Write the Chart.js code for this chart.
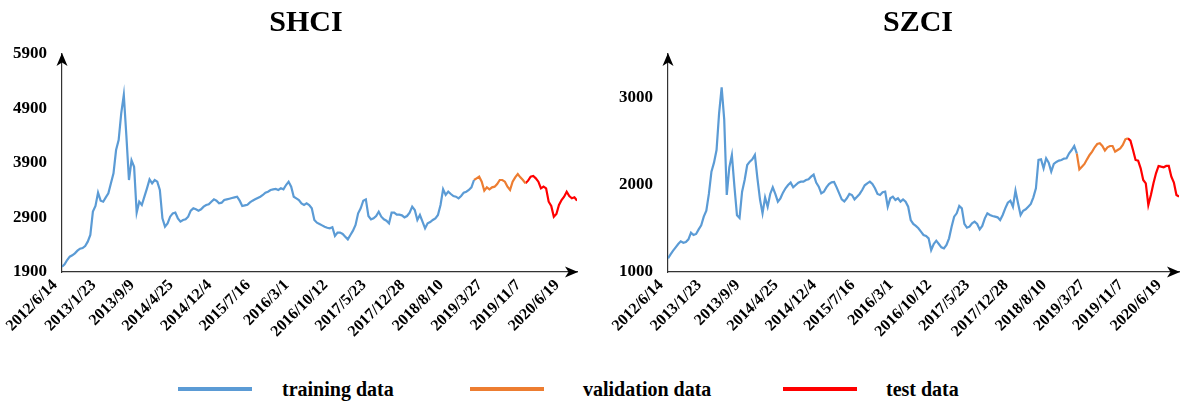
<!DOCTYPE html>
<html>
<head>
<meta charset="utf-8">
<title>SHCI / SZCI</title>
<script src="https://cdn.jsdelivr.net/npm/chart.js@4.4.1/dist/chart.umd.min.js"></script>
<style>
  html, body { margin: 0; padding: 0; background: #fff; width: 1180px; height: 401px; overflow: hidden; }
  #wrap { position: relative; width: 1180px; height: 401px; font-family: "Liberation Serif", "Times New Roman", serif; }
  canvas { position: absolute; top: 0; }
  #shci { left: 0; }
  #szci { left: 600px; }
  .swatch { position: absolute; top: 387px; width: 74px; height: 4px; }
  .ltext { position: absolute; top: 379px; font-size: 20px; line-height: 20px; font-weight: bold; color: #000; white-space: nowrap; }
</style>
</head>
<body>
<div id="wrap">
  <canvas id="shci" width="590" height="365"></canvas>
  <canvas id="szci" width="580" height="365"></canvas>

  <div class="swatch" style="left:178px;background:#5B9BD5"></div>
  <div class="ltext" style="left:282px">training data</div>
  <div class="swatch" style="left:470px;background:#ED7D31"></div>
  <div class="ltext" style="left:583px">validation data</div>
  <div class="swatch" style="left:783px;background:#FF0000"></div>
  <div class="ltext" style="left:886px">test data</div>
</div>

<script>
// Trading-day step between stored closing values, and the tick spacing of the date axis.
const STEP = 10;
const TICK_STEP = 150;
const DAY_COUNT = 2000;

const dateLabels = [
  '2012/6/14', '2013/1/23', '2013/9/9', '2014/4/25', '2014/12/4', '2015/7/16', '2016/3/1',
  '2016/10/12', '2017/5/23', '2017/12/28', '2018/8/10', '2019/3/27', '2019/11/7', '2020/6/19'
];

// Shanghai Composite Index (SHCI)
const shciTicks = [1900, 2900, 3900, 4900, 5900];
const shciTraining = [
  1998, 2041, 2120, 2181, 2206, 2242, 2291, 2328, 2340, 2377,
  2457, 2579, 3007, 3111, 3356, 3209, 3190, 3270, 3343, 3527,
  3710, 4138, 4322, 4811, 5148, 4400, 3588, 3950, 3830, 2990,
  3190, 3129, 3282, 3435, 3600, 3527, 3588, 3557, 3405, 2885,
  2732, 2793, 2915, 2976, 2989, 2885, 2824, 2854, 2866, 2915,
  3025, 3068, 3050, 3025, 3050, 3099, 3129, 3142, 3190, 3233,
  3209, 3160, 3172, 3221, 3233, 3245, 3258, 3270, 3282, 3209,
  3111, 3123, 3135, 3178, 3209, 3233, 3258, 3282, 3313, 3356,
  3374, 3405, 3417, 3423, 3405, 3435, 3417, 3496, 3557, 3466,
  3282, 3252, 3221, 3160, 3129, 3160, 3129, 3068, 2854, 2805,
  2781, 2756, 2732, 2713, 2701, 2720, 2561, 2622, 2622, 2597,
  2548, 2499, 2579, 2658, 2762, 2976, 3068, 3209, 3233, 2927,
  2866, 2885, 2927, 3007, 2915, 2866, 2842, 2793, 2989, 2989,
  2952, 2952, 2940, 2903, 2927, 2989, 3099, 3038, 2854, 2946,
  2823, 2701, 2793, 2817, 2854, 2885, 2946, 3129, 3417, 3313,
  3374, 3331, 3294, 3282, 3252, 3294, 3356, 3374, 3405, 3453,
  3588
];
const shciValidation = [
  3588, 3619, 3649, 3557, 3392, 3453, 3417, 3453, 3466, 3515,
  3588, 3588, 3557, 3466, 3405, 3557, 3637, 3698, 3637, 3588,
  3527
];
const shciTest = [
  3527, 3576, 3649, 3661, 3619, 3557, 3435, 3466, 3435, 3190,
  3111, 2915, 2964, 3129, 3221, 3282, 3374, 3294, 3252, 3270,
  3209
];

// Shenzhen Component Index (SZCI)
const szciTicks = [1000, 2000, 3000];
const szciTraining = [
  1157, 1203, 1245, 1283, 1321, 1352, 1336, 1344, 1375, 1451,
  1424, 1436, 1489, 1535, 1635, 1703, 1895, 2151, 2254, 2399,
  2820, 3118, 2750, 1883, 2200, 2342, 1979, 1650, 1620, 1921,
  2055, 2227, 2265, 2292, 2342, 2074, 1833, 1673, 1856, 1749,
  1895, 1971, 1895, 1807, 1845, 1910, 1960, 1998, 2025, 1971,
  1998, 2025, 2036, 2036, 2055, 2063, 2093, 2116, 2025, 1979,
  1902, 1921, 1971, 2009, 2028, 2032, 1971, 1902, 1833, 1810,
  1845, 1895, 1883, 1833, 1864, 1895, 1940, 1994, 2017, 2036,
  2009, 1960, 1895, 1883, 1914, 1921, 1749, 1845, 1864, 1826,
  1845, 1807, 1833, 1807, 1749, 1596, 1551, 1528, 1501, 1463,
  1424, 1413, 1386, 1252, 1321, 1359, 1321, 1283, 1271, 1310,
  1386, 1520, 1635, 1673, 1757, 1730, 1551, 1508, 1520, 1558,
  1577, 1551, 1489, 1528, 1615, 1673, 1654, 1642, 1635, 1627,
  1596, 1654, 1730, 1795, 1818, 1749, 1933, 1788, 1654, 1703,
  1719, 1749, 1780, 1856, 1960, 2285, 2292, 2189, 2304, 2254,
  2151, 2239, 2262, 2277, 2285, 2300, 2304, 2361, 2399, 2445,
  2361
];
const szciValidation = [
  2361, 2177, 2208, 2239, 2292, 2342, 2380, 2430, 2468, 2476,
  2445, 2392, 2430, 2445, 2445, 2380, 2399, 2418, 2457, 2522,
  2533
];
const szciTest = [
  2533, 2506, 2399, 2285, 2277, 2189, 2055, 2017, 1768, 1883,
  2017, 2132, 2216, 2208, 2201, 2216, 2216, 2093, 2025, 1883,
  1864
];

const COLORS = { training: '#5B9BD5', validation: '#ED7D31', test: '#FF0000' };
const SERIF = '"Liberation Serif", "Times New Roman", serif';

Chart.defaults.font.family = SERIF;
Chart.defaults.color = '#000';

// Turn a run of values into {x, y} points, starting at a given trading-day index.
function toPoints(values, startDay) {
  return values.map((v, i) => ({ x: startDay + i * STEP, y: v }));
}

function drawArrowHead(ctx, x, y, angle) {
  const len = 12, half = 5.5, notch = 3.5;
  ctx.save();
  ctx.translate(x, y);
  ctx.rotate(angle);
  ctx.beginPath();
  ctx.moveTo(1, 0);
  ctx.lineTo(-len, -half);
  ctx.lineTo(-len + notch, 0);
  ctx.lineTo(-len, half);
  ctx.closePath();
  ctx.fill();
  ctx.restore();
}

// Arrowheads at the ends of both axis lines.
const axisArrows = {
  id: 'axisArrows',
  afterDraw(chart) {
    const { ctx, chartArea: a } = chart;
    ctx.save();
    ctx.fillStyle = '#000';
    drawArrowHead(ctx, a.right, a.bottom, 0);
    drawArrowHead(ctx, a.left, a.top, -Math.PI / 2);
    ctx.restore();
  }
};

// Slides the title block sideways after layout, so the heading sits where it should
// even though the plot area is not centred in its canvas.
const titleShift = {
  id: 'titleShift',
  afterLayout(chart, args, opts) {
    const t = chart.titleBlock;
    if (t && opts.dx) {
      t.left += opts.dx;
      t.right += opts.dx;
    }
  }
};

function makeChart(canvasId, cfg) {
  const tickDays = dateLabels.map((_, i) => i * TICK_STEP);
  const trainEnd = (cfg.training.length - 1) * STEP;
  const valEnd = trainEnd + (cfg.validation.length - 1) * STEP;
  const line = (label, values, start, color) => ({
    label,
    data: toPoints(values, start),
    borderColor: color,
    backgroundColor: color,
    borderWidth: 2.2,
    pointRadius: 0,
    tension: 0,
    fill: false
  });

  return new Chart(document.getElementById(canvasId), {
    type: 'line',
    data: {
      datasets: [
        line('training data', cfg.training, 0, COLORS.training),
        line('validation data', cfg.validation, trainEnd, COLORS.validation),
        line('test data', cfg.test, valEnd, COLORS.test)
      ]
    },
    options: {
      responsive: false,
      animation: false,
      parsing: false,
      layout: { padding: cfg.padding },
      plugins: {
        legend: { display: false },
        tooltip: { enabled: false },
        title: {
          display: true,
          text: cfg.title,
          color: '#000',
          font: { family: SERIF, size: 30, weight: 'bold', lineHeight: 1.2 },
          padding: { top: 5, bottom: 13 }
        },
        titleShift: { dx: cfg.titleDx }
      },
      scales: {
        x: {
          type: 'linear',
          min: 0,
          max: DAY_COUNT,
          grid: { display: false, drawTicks: false },
          border: { display: true, color: '#333', width: 1.2 },
          afterBuildTicks: (s) => { s.ticks = tickDays.map(v => ({ value: v })); },
          afterFit: (s) => { s.height = 93; s.paddingLeft = 0; s.paddingRight = 0; },
          ticks: {
            autoSkip: false,
            maxRotation: 45,
            minRotation: 45,
            padding: 4,
            labelOffset: -7,
            color: '#000',
            font: { family: SERIF, size: 16, weight: 'bold' },
            callback: (v) => dateLabels[Math.round(v / TICK_STEP)]
          }
        },
        y: {
          type: 'linear',
          min: cfg.yMin,
          max: cfg.yMax,
          grid: { display: false, drawTicks: false },
          border: { display: true, color: '#333', width: 1.2 },
          afterBuildTicks: (s) => { s.ticks = cfg.yTicks.map(v => ({ value: v })); },
          afterFit: (s) => { s.width = cfg.yAxisWidth; s.paddingTop = 0; s.paddingBottom = 0; },
          ticks: {
            padding: 15,
            color: '#000',
            font: { family: SERIF, size: 17, weight: 'bold' },
            callback: (v) => String(v)
          }
        }
      }
    },
    plugins: [axisArrows, titleShift]
  });
}

makeChart('shci', {
  title: 'SHCI',
  training: shciTraining, validation: shciValidation, test: shciTest,
  yMin: 1900, yMax: 5900, yTicks: shciTicks,
  padding: { left: 5, right: 13, top: 0, bottom: 0 },
  yAxisWidth: 57,
  titleDx: 15
});

makeChart('szci', {
  title: 'SZCI',
  training: szciTraining, validation: szciValidation, test: szciTest,
  yMin: 1000, yMax: 3500, yTicks: szciTicks,
  padding: { left: 5, right: 1, top: 0, bottom: 0 },
  yAxisWidth: 63,
  titleDx: 26
});
</script>
</body>
</html>
